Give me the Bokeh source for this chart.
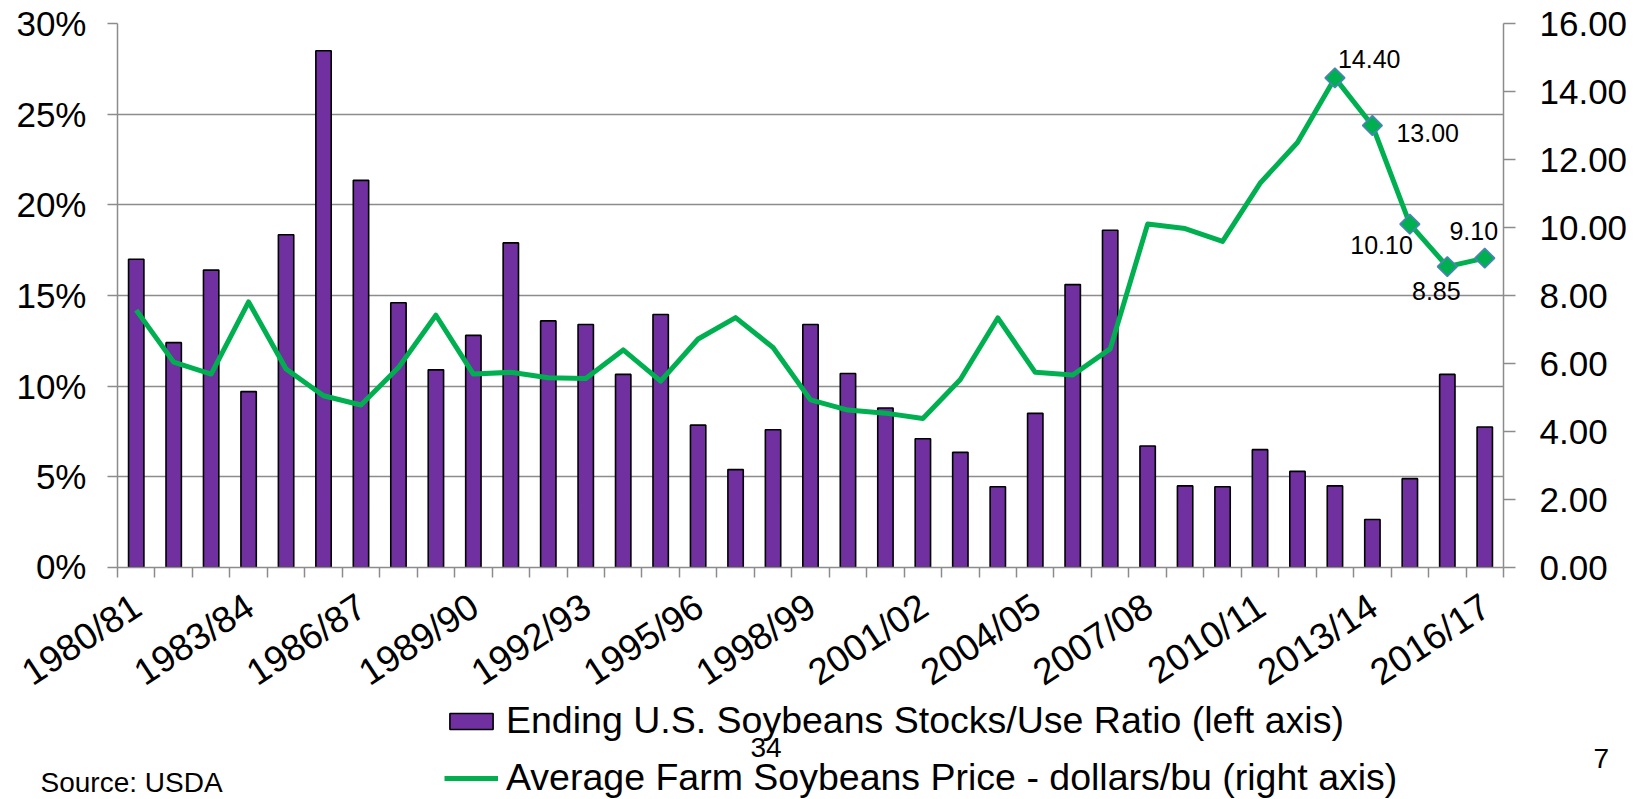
import numpy as np
from bokeh.plotting import figure
from bokeh.layouts import column
from bokeh.models import (Range1d, LinearAxis, FixedTicker, Legend, LegendItem, Label,
                          ColumnDataSource, NumeralTickFormatter)
from bokeh.embed import file_html
from bokeh.resources import INLINE
from bokeh.core.properties import value

# ---------------- data ----------------
seasons = ["1980/81", "1981/82", "1982/83", "1983/84", "1984/85", "1985/86", "1986/87",
           "1987/88", "1988/89", "1989/90", "1990/91", "1991/92", "1992/93", "1993/94",
           "1994/95", "1995/96", "1996/97", "1997/98", "1998/99", "1999/00", "2000/01",
           "2001/02", "2002/03", "2003/04", "2004/05", "2005/06", "2006/07", "2007/08",
           "2008/09", "2009/10", "2010/11", "2011/12", "2012/13", "2013/14", "2014/15",
           "2015/16", "2016/17"]

# Ending stocks / use ratio, percent (left axis)
stocks_use_pct = [17.0, 12.4, 16.4, 9.7, 18.35, 28.5, 21.35, 14.6, 10.9, 12.8, 17.9, 13.6,
                  13.4, 10.65, 13.95, 7.85, 5.4, 7.6, 13.4, 10.7, 8.8, 7.1, 6.35, 4.45, 8.5,
                  15.6, 18.6, 6.7, 4.5, 4.45, 6.5, 5.3, 4.5, 2.65, 4.9, 10.65, 7.75]

# Average farm price, dollars/bu (right axis)
price = [7.57, 6.04, 5.69, 7.81, 5.84, 5.05, 4.78, 5.88, 7.42, 5.69, 5.74, 5.58, 5.56, 6.40,
         5.48, 6.72, 7.35, 6.47, 4.93, 4.63, 4.54, 4.38, 5.53, 7.34, 5.74, 5.66, 6.43, 10.10,
         9.97, 9.59, 11.30, 12.50, 14.40, 13.00, 10.10, 8.85, 9.10]

labeled_seasons = ["2012/13", "2013/14", "2014/15", "2015/16", "2016/17"]
labeled_texts = ["14.40", "13.00", "10.10", "8.85", "9.10"]

left_ticks = [0, 0.05, 0.10, 0.15, 0.20, 0.25, 0.30]
right_ticks = [0, 2, 4, 6, 8, 10, 12, 14, 16]
shown_x_labels = ["1980/81", "1983/84", "1986/87", "1989/90", "1992/93", "1995/96",
                  "1998/99", "2001/02", "2004/05", "2007/08", "2010/11", "2013/14", "2016/17"]

legend_labels = ["Ending U.S. Soybeans Stocks/Use Ratio (left axis)",
                 "Average Farm Soybeans Price - dollars/bu (right axis)"]
source_note = "Source: USDA"
page_marks = ["34", "7"]

# ---------------- styles / layout ----------------
FONT = "Liberation Sans"
PURPLE = "#7030A0"
GREEN = "#00B050"
GRID = "#8c8c8c"
W = 1644
H = 799
H_MAIN = 585
H_FOOT = H - H_MAIN
FRAME_L, FRAME_R, FRAME_T = 117, 141, 23
FRAME_B = H_MAIN - 567

n = len(seasons)
idx = list(range(n))
src = ColumnDataSource(dict(x=idx, ratio=[v / 100 for v in stocks_use_pct], price=price))

lab_idx = [seasons.index(s) for s in labeled_seasons]
lab_price = [price[i] for i in lab_idx]
lab_xoff = [3, 24, 3, -11, -11]
lab_yoff = [-19, 7, 21, 24, -27]
lab_align = ["left", "left", "right", "center", "center"]
lab_src = ColumnDataSource(dict(x=lab_idx, y=lab_price, t=labeled_texts,
                                xo=lab_xoff, yo=lab_yoff, al=lab_align))

# ---------------- main chart ----------------
p = figure(width=W, height=H_MAIN, x_range=Range1d(-0.5, n - 0.5), y_range=Range1d(0, 0.30),
           output_backend="svg", toolbar_location=None, frame_align=False,
           min_border_left=FRAME_L, min_border_right=FRAME_R, min_border_top=FRAME_T,
           min_border_bottom=FRAME_B)
p.outline_line_color = None
p.extra_y_ranges = {"price": Range1d(0, 16)}

p.xgrid.visible = False
p.ygrid.ticker = FixedTicker(ticks=left_ticks)
p.ygrid.grid_line_color = GRID
p.ygrid.grid_line_width = 1.5

xa = p.xaxis[0]
xa.ticker = FixedTicker(ticks=[], minor_ticks=[i - 0.5 for i in range(n + 1)])
xa.major_tick_line_color = None
xa.major_tick_out = 0
xa.minor_tick_line_color = GRID
xa.minor_tick_line_width = 1.5
xa.minor_tick_out = 10
xa.minor_tick_in = 0
xa.axis_line_color = GRID
xa.axis_line_width = 1.5
xa.major_label_standoff = 0

ya = p.yaxis[0]
ya.ticker = FixedTicker(ticks=left_ticks)
ya.formatter = NumeralTickFormatter(format="0%")
ya.axis_line_color = GRID
ya.axis_line_width = 1.5
ya.major_tick_line_color = GRID
ya.major_tick_line_width = 1.5
ya.major_tick_out = 10
ya.major_tick_in = 0
ya.minor_tick_line_color = None
ya.major_label_standoff = 21
ya.major_label_text_font = FONT
ya.major_label_text_font_size = "35px"
ya.major_label_text_color = "black"

ra = LinearAxis(y_range_name="price", ticker=FixedTicker(ticks=right_ticks),
                formatter=NumeralTickFormatter(format="0.00"))
ra.axis_line_color = GRID
ra.axis_line_width = 1.5
ra.major_tick_line_color = GRID
ra.major_tick_line_width = 1.5
ra.major_tick_out = 12
ra.major_tick_in = 0
ra.minor_tick_line_color = None
ra.major_label_standoff = 24
ra.major_label_text_font = FONT
ra.major_label_text_font_size = "35px"
ra.major_label_text_color = "black"
p.add_layout(ra, "right")

bar_style = dict(fill_color=PURPLE, line_color="black", line_width=1.6)
line_style = dict(line_color=GREEN, line_width=5, line_join="round")

p.vbar(x="x", top="ratio", width=0.41, source=src, **bar_style)
p.line(x="x", y="price", source=src, y_range_name="price", **line_style)
p.scatter(x="x", y="y", source=lab_src, y_range_name="price", marker="square",
          angle=np.pi / 4, size=14, fill_color=GREEN, line_color="#4F81BD", line_width=1.5)
p.text(x="x", y="y", text="t", source=lab_src, y_range_name="price", x_offset="xo",
       y_offset="yo", text_align="al", text_baseline="middle", text_font=value(FONT),
       text_font_size="25px", text_color="black")

# ---------------- footer: category labels, legend, notes ----------------
px_per_unit = (W - FRAME_L - FRAME_R) / n
f = figure(width=W, height=H_FOOT, output_backend="svg", toolbar_location=None,
           frame_align=False,
           x_range=Range1d(-0.5 - FRAME_L / px_per_unit, n - 0.5 + FRAME_R / px_per_unit),
           y_range=Range1d(-H_FOOT, 0), x_axis_type=None, y_axis_type=None,
           min_border=0, min_border_left=0, min_border_right=0, min_border_top=0,
           min_border_bottom=0)
f.outline_line_color = None
f.grid.visible = False

xl_src = ColumnDataSource(dict(x=[seasons.index(s) for s in shown_x_labels],
                               y=[0] * len(shown_x_labels), t=shown_x_labels))
f.text(x="x", y="y", text="t", source=xl_src, angle=0.58, text_align="right",
       text_baseline="top", x_offset=-10, y_offset=0, text_font=value(FONT),
       text_font_size="37px", text_color="black")

# hidden copies of the two series in the footer: they only feed the legend swatches
leg_bar = f.vbar(x="x", top="ratio", width=0.41, source=src, visible=False, **bar_style)
leg_line = f.line(x="x", y="price", source=src, visible=False, **line_style)
legend = Legend(items=[LegendItem(label=legend_labels[0], renderers=[leg_bar]),
                       LegendItem(label=legend_labels[1], renderers=[leg_line])],
                location=(444, 0))
legend.click_policy = "none"
legend.inactive_fill_alpha = 0
legend.background_fill_alpha = 0
legend.border_line_color = None
legend.padding = 0
legend.margin = 0
legend.spacing = 14
legend.glyph_width = 54
legend.glyph_height = 20
legend.label_standoff = 8
legend.label_text_font = FONT
legend.label_text_font_size = "37.5px"
legend.label_text_color = "black"
f.add_layout(legend)

f.add_layout(Label(x=40, y=17, x_units="screen", y_units="screen", text=source_note,
                   text_font=FONT, text_font_size="28px", text_color="black",
                   text_baseline="alphabetic"))
f.add_layout(Label(x=750, y=52, x_units="screen", y_units="screen", text=page_marks[0],
                   text_font=FONT, text_font_size="28px", text_color="black",
                   text_baseline="alphabetic"))
f.add_layout(Label(x=1593, y=41, x_units="screen", y_units="screen", text=page_marks[1],
                   text_font=FONT, text_font_size="28px", text_color="black",
                   text_baseline="alphabetic"))

layout = column(p, f, spacing=0)
open("out.html", "w").write(file_html(layout, INLINE))
